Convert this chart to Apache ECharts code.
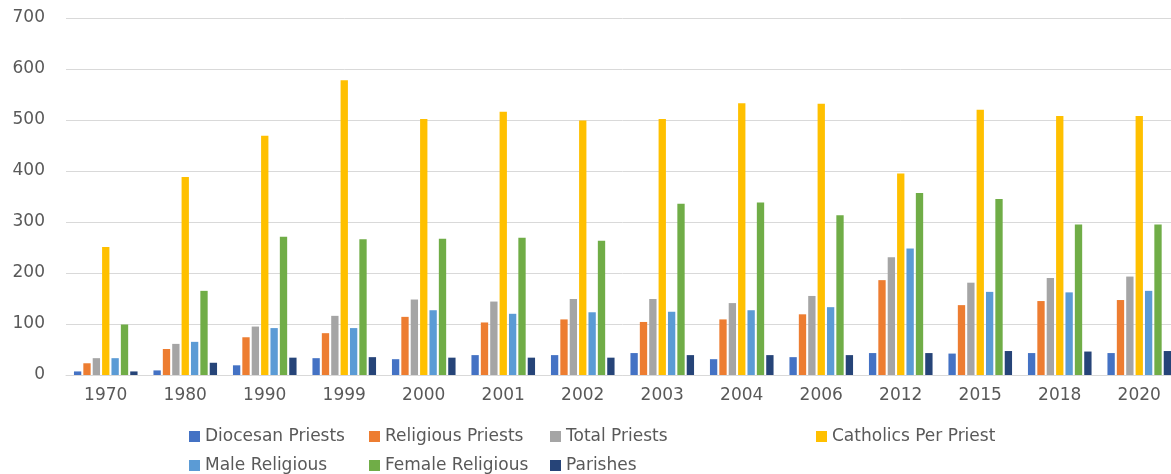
<!DOCTYPE html>
<html>
<head>
<meta charset="utf-8">
<script src="https://cdn.jsdelivr.net/npm/echarts@6/dist/echarts.min.js"></script>
<style>
  html, body { margin: 0; padding: 0; background: #fff; overflow: hidden; }
  /* the original is cropped on the right, so the canvas runs a bit past the window */
  #chart { width: 1179px; height: 474px; }
</style>
</head>
<body>
<div id="chart"></div>
<script>
var years = ['1970', '1980', '1990', '1999', '2000', '2001', '2002', '2003', '2004', '2006', '2012', '2015', '2018', '2020'];

var diocesanPriests = [7, 9, 19, 33, 31, 39, 39, 43, 31, 35, 43, 42, 43, 43];
var religiousPriests = [23, 51, 74, 82, 114, 103, 109, 104, 109, 119, 186, 137, 145, 147];
var totalPriests = [33, 61, 95, 116, 148, 144, 149, 149, 141, 155, 231, 181, 190, 193];
var catholicsPerPriest = [251, 388, 469, 578, 502, 516, 499, 502, 533, 532, 395, 520, 508, 508];
var maleReligious = [33, 65, 92, 92, 127, 120, 123, 124, 127, 133, 248, 163, 162, 165];
var femaleReligious = [99, 165, 271, 266, 267, 269, 263, 336, 338, 313, 357, 345, 295, 295];
var parishes = [7, 24, 34, 35, 34, 34, 34, 39, 39, 39, 43, 47, 46, 47];

var yTicks = [0, 100, 200, 300, 400, 500, 600, 700];

var seriesList = [
  { name: 'Diocesan Priests', data: diocesanPriests, color: '#4472C4', left: 189, top: 428 },
  { name: 'Religious Priests', data: religiousPriests, color: '#ED7D31', left: 369, top: 428 },
  { name: 'Total Priests', data: totalPriests, color: '#A5A5A5', left: 550, top: 428 },
  { name: 'Catholics Per Priest', data: catholicsPerPriest, color: '#FFC000', left: 816, top: 428 },
  { name: 'Male Religious', data: maleReligious, color: '#5B9BD5', left: 189, top: 457 },
  { name: 'Female Religious', data: femaleReligious, color: '#70AD47', left: 369, top: 457 },
  { name: 'Parishes', data: parishes, color: '#264478', left: 550, top: 457 }
];

var chart = echarts.init(document.getElementById('chart'));

var option = {
  animation: false,
  textStyle: { fontFamily: 'DejaVu Sans' },
  // one legend per item so the columns line up like the original
  legend: seriesList.map(function (s) {
    return {
      data: [s.name],
      left: s.left,
      top: s.top,
      padding: 0,
      itemWidth: 11,
      itemHeight: 11,
      itemGap: 6,
      icon: 'rect',
      textStyle: { color: '#595959', fontSize: 17, fontFamily: 'DejaVu Sans' }
    };
  }),
  grid: { left: 66, right: 0, top: 18, bottom: 99, containLabel: false },
  xAxis: {
    type: 'category',
    data: years,
    axisLine: { lineStyle: { color: '#d9d9d9' } },
    axisTick: { show: false },
    axisLabel: { color: '#595959', fontSize: 17, margin: 12 }
  },
  yAxis: {
    type: 'value',
    min: yTicks[0],
    max: yTicks[yTicks.length - 1],
    interval: 100,
    axisLine: { show: false },
    axisTick: { show: false },
    axisLabel: { color: '#595959', fontSize: 17, margin: 21 },
    splitLine: { lineStyle: { color: '#d9d9d9', width: 1 } }
  },
  series: seriesList.map(function (s) {
    return {
      name: s.name,
      type: 'bar',
      data: s.data,
      itemStyle: { color: s.color },
      barGap: '28%',
      barCategoryGap: '20%'
    };
  })
};

chart.setOption(option);
</script>
</body>
</html>
